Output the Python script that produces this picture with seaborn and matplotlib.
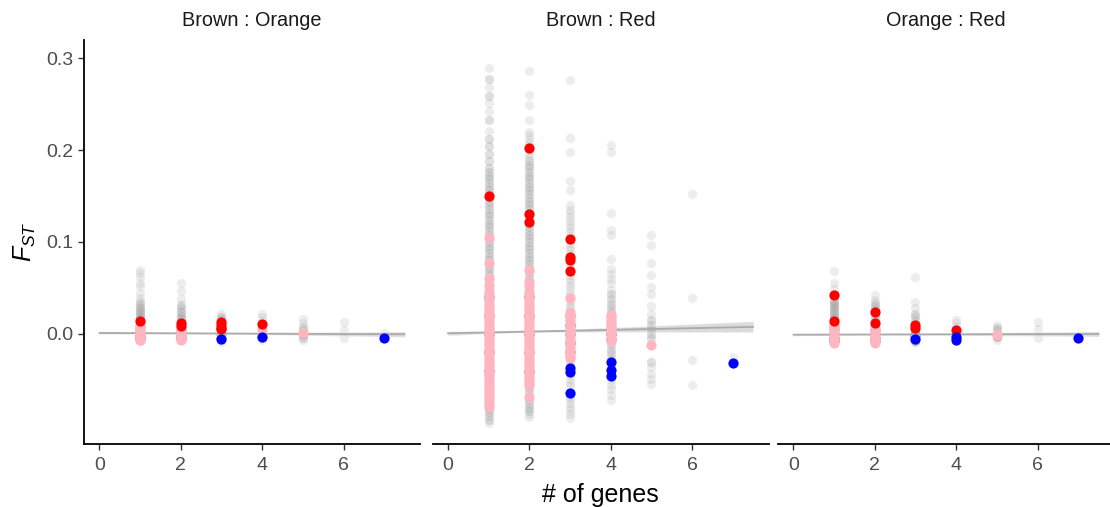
import numpy as np
import pandas as pd
import matplotlib
matplotlib.use("Agg")
import matplotlib.pyplot as plt
import seaborn as sns

# ---------------- data ----------------
PANELS = ["Brown : Orange", "Brown : Red", "Orange : Red"]
X_TICKS = [0, 2, 4, 6]
Y_TICKS = [0.0, 0.1, 0.2, 0.3]
Y_TICK_LABELS = ["0.0", "0.1", "0.2", "0.3"]
X_LABEL = "# of genes"
Y_LABEL = "$F_{ST}$"

# all loci (grey): {number of genes: [(FST, number of loci), ...]}
bo_grey = {
    1: [(0.070, 1), (0.066, 1), (0.062, 1), (0.055, 1), (0.052, 1), (0.045, 1), (0.039, 1),
        (0.035, 2), (0.031, 2), (0.028, 3), (0.025, 3), (0.022, 3), (0.019, 3), (0.016, 3),
        (0.013, 3), (0.006, 20), (0.002, 70), (-0.002, 120), (-0.005, 100)],
    2: [(0.055, 1), (0.047, 1), (0.038, 1), (0.032, 2), (0.028, 2), (0.024, 3), (0.020, 3),
        (0.016, 3), (0.013, 3), (0.005, 20), (0.002, 50), (-0.002, 80), (-0.005, 80)],
    3: [(0.022, 1), (0.019, 2), (0.016, 2), (0.013, 2), (0.010, 2), (0.006, 2), (0.002, 2),
        (-0.002, 2), (-0.006, 2), (-0.009, 1), (0.0, 40), (-0.004, 40)],
    4: [(0.022, 1), (0.018, 1), (0.014, 1), (0.010, 1), (0.006, 1), (0.002, 1), (-0.002, 1),
        (-0.006, 1), (-0.003, 15)],
    5: [(0.016, 1), (0.012, 1), (0.008, 2), (0.004, 2), (0.0, 2), (-0.004, 2), (-0.007, 1),
        (0.0, 15)],
    6: [(0.013, 1), (0.004, 1), (-0.004, 1)],
    7: [(0.001, 1)],
}
br_grey = {
    1: [(0.289, 1), (0.277, 2), (0.269, 1), (0.259, 2), (0.251, 1), (0.242, 1), (0.233, 2),
        (0.221, 1), (0.212, 2), (0.204, 2), (0.196, 2), (0.188, 2), (0.180, 2),
        (0.176, 2), (0.172, 2), (0.168, 2), (0.164, 2), (0.160, 2), (0.156, 2), (0.152, 2),
        (0.148, 2), (0.144, 2), (0.140, 2), (0.136, 2), (0.132, 2), (0.128, 2), (0.124, 2),
        (0.120, 2), (0.116, 2), (0.112, 2), (0.108, 2), (0.104, 2), (0.100, 2), (0.096, 2),
        (0.092, 2), (0.088, 2), (0.084, 2), (0.080, 2), (0.076, 2), (0.072, 2), (0.068, 2),
        (0.064, 2), (0.060, 2), (0.056, 2), (0.052, 2),
        (-0.082, 2), (-0.085, 2), (-0.089, 2), (-0.093, 2), (-0.097, 1),
        (-0.04, 310), (-0.02, 600), (0.0, 800), (0.02, 550), (0.04, 165)],
    2: [(0.286, 1), (0.260, 1), (0.249, 1), (0.233, 1), (0.220, 1), (0.216, 1), (0.212, 1),
        (0.208, 1), (0.204, 1), (0.200, 1), (0.196, 1), (0.192, 1), (0.188, 2), (0.184, 2),
        (0.180, 2), (0.176, 2), (0.172, 2), (0.168, 2), (0.164, 2), (0.160, 2), (0.156, 2),
        (0.152, 2), (0.148, 2), (0.144, 2), (0.140, 2), (0.136, 2), (0.132, 2), (0.128, 2),
        (0.124, 2), (0.120, 2), (0.116, 2), (0.112, 2), (0.108, 2), (0.104, 2), (0.100, 2),
        (0.096, 2), (0.092, 2), (0.088, 2), (0.084, 2), (0.080, 2), (0.076, 2), (0.072, 2),
        (0.068, 2), (0.064, 2), (0.060, 2), (0.056, 2), (0.052, 2),
        (-0.059, 2), (-0.063, 2), (-0.072, 2), (-0.076, 2), (-0.080, 2), (-0.084, 2),
        (-0.087, 1), (-0.090, 1),
        (-0.04, 230), (-0.02, 450), (0.0, 600), (0.02, 400), (0.04, 130)],
    3: [(0.276, 1), (0.213, 1), (0.198, 1), (0.166, 1), (0.157, 1), (0.140, 1), (0.135, 1),
        (0.131, 1), (0.127, 1), (0.123, 1), (0.119, 1), (0.115, 1), (0.111, 1), (0.107, 1),
        (0.099, 1), (0.095, 1), (0.091, 1), (0.087, 1), (0.076, 1), (0.072, 1), (0.064, 1),
        (0.060, 1), (0.056, 1), (0.052, 1), (0.048, 1), (0.044, 1), (0.040, 1), (0.036, 1),
        (0.032, 1), (0.029, 1),
        (-0.030, 1), (-0.034, 1), (-0.045, 1), (-0.049, 1), (-0.053, 1), (-0.057, 1),
        (-0.068, 1), (-0.071, 1), (-0.075, 1), (-0.079, 1), (-0.083, 1), (-0.087, 1),
        (-0.091, 1),
        (-0.02, 80), (-0.01, 130), (0.0, 200), (0.01, 130), (0.02, 60)],
    4: [(0.205, 1), (0.198, 1), (0.131, 1), (0.113, 1), (0.108, 1), (0.082, 1), (0.071, 1),
        (0.065, 1), (0.060, 1), (0.055, 1), (0.048, 1), (0.043, 2), (0.038, 2), (0.033, 2),
        (0.028, 2), (0.024, 2),
        (-0.012, 2), (-0.017, 2), (-0.022, 2), (-0.027, 2), (-0.034, 1), (-0.043, 1),
        (-0.050, 1), (-0.055, 1), (-0.060, 1), (-0.066, 1), (-0.072, 1),
        (-0.005, 60), (0.0, 80), (0.005, 40), (0.01, 20)],
    5: [(0.108, 1), (0.097, 1), (0.077, 1), (0.064, 1), (0.051, 1), (0.044, 1), (0.030, 1),
        (0.022, 1), (0.015, 2), (0.010, 2), (0.005, 2), (0.0, 2), (-0.004, 2), (-0.012, 1),
        (-0.030, 2), (-0.036, 1), (-0.043, 1), (-0.049, 1), (-0.054, 1)],
    6: [(0.152, 1), (0.039, 1), (-0.028, 1), (-0.055, 1)],
    7: [(-0.025, 1)],
}
or_grey = {
    1: [(0.068, 1), (0.055, 1), (0.049, 1), (0.044, 1), (0.037, 2), (0.034, 3), (0.031, 3),
        (0.028, 3), (0.025, 3), (0.022, 3), (0.019, 3), (0.016, 3),
        (0.009, 20), (0.005, 40), (0.0, 80), (-0.004, 120), (-0.008, 120)],
    2: [(0.042, 1), (0.037, 1), (0.034, 2), (0.030, 2), (0.027, 2), (0.020, 2), (0.016, 2),
        (0.004, 50), (0.0, 80), (-0.004, 70), (-0.008, 50)],
    3: [(0.062, 1), (0.035, 1), (0.028, 1), (0.022, 2), (0.018, 2), (0.014, 2), (0.004, 2),
        (0.0, 2), (-0.004, 2), (-0.009, 2), (0.0, 20), (-0.002, 60), (-0.006, 30)],
    4: [(0.015, 1), (0.012, 1), (0.008, 1), (0.004, 1), (0.0, 1), (-0.004, 1), (-0.008, 1),
        (-0.003, 10)],
    5: [(0.010, 1), (0.007, 2), (0.004, 2), (0.0, 2), (-0.003, 2), (-0.006, 1),
        (-0.002, 15)],
    6: [(0.013, 1), (0.005, 1), (-0.004, 1)],
}

# highlighted loci: {number of genes: [FST, ...]}
bo_pink = {1: [0.010, 0.008, 0.006, 0.004, 0.002, 0.0, -0.002, -0.004, -0.006, -0.007],
           2: [0.005, 0.003, 0.001, -0.001, -0.003, -0.005, -0.006], 4: [0.004], 5: [0.001]}
bo_red = {1: [0.0145], 2: [0.009, 0.012], 3: [0.013, 0.010, 0.007, 0.005], 4: [0.011]}
bo_blue = {3: [-0.005], 4: [-0.003], 7: [-0.004]}

br_pink = {
    1: [0.104, 0.077, 0.061, 0.053, 0.047, 0.044, 0.041, 0.038, 0.035, 0.032, 0.029, 0.026,
        0.023, 0.020, 0.017, 0.014, 0.011, 0.008, 0.005, 0.002, -0.001, -0.004, -0.007,
        -0.010, -0.013, -0.016, -0.019, -0.022, -0.025, -0.028, -0.031, -0.034, -0.037,
        -0.040, -0.043, -0.046, -0.049, -0.052, -0.055, -0.058, -0.061, -0.064, -0.067,
        -0.070, -0.073, -0.076, -0.079],
    2: [0.070, 0.056, 0.052, 0.046, 0.043, 0.040, 0.037, 0.034, 0.031, 0.028, 0.025, 0.022,
        0.019, 0.016, 0.013, 0.010, 0.007, 0.004, 0.001, -0.002, -0.005, -0.008, -0.011,
        -0.014, -0.017, -0.020, -0.023, -0.026, -0.029, -0.032, -0.035, -0.038, -0.041,
        -0.044, -0.047, -0.050, -0.053, -0.055, -0.068],
    3: [0.039, 0.024, 0.021, 0.018, 0.015, 0.012, 0.009, 0.006, 0.003, 0.0, -0.003, -0.006,
        -0.009, -0.012, -0.015, -0.018, -0.021, -0.024, -0.026],
    4: [0.021, 0.018, 0.015, 0.012, 0.009, 0.006, 0.003, 0.0, -0.003, -0.006, -0.008],
    5: [-0.012],
}
br_red = {1: [0.150], 2: [0.202, 0.130, 0.122], 3: [0.103, 0.084, 0.080, 0.068]}
br_blue = {3: [-0.037, -0.041, -0.064], 4: [-0.030, -0.039, -0.046], 7: [-0.032]}

or_pink = {1: [0.011, 0.008, 0.005, 0.002, -0.001, -0.004, -0.007, -0.010],
           2: [0.007, 0.004, 0.001, -0.002, -0.005, -0.008, -0.010], 5: [-0.001]}
or_red = {1: [0.042, 0.0145], 2: [0.024, 0.0116], 3: [0.010, 0.007], 4: [0.0043]}
or_blue = {3: [-0.0055], 4: [-0.003, -0.0065], 7: [-0.0045]}

GREY_DATA = [bo_grey, br_grey, or_grey]
PINK_DATA = [bo_pink, br_pink, or_pink]
RED_DATA = [bo_red, br_red, or_red]
BLUE_DATA = [bo_blue, br_blue, or_blue]


def grey_frame(d):
    xs, ys = [], []
    for k, pairs in d.items():
        for v, c in pairs:
            xs.append(np.repeat(k, c))
            ys.append(np.repeat(v, c))
    return pd.DataFrame({"genes": np.concatenate(xs).astype(float),
                         "fst": np.concatenate(ys)})


def point_frame(d):
    xs = [k for k, vals in d.items() for _ in vals]
    ys = [v for vals in d.values() for v in vals]
    return pd.DataFrame({"genes": np.array(xs, dtype=float), "fst": ys})


# ---------------- style ----------------
sns.set_theme(style="ticks")
plt.rcParams["font.family"] = ["Liberation Sans", "DejaVu Sans"]
plt.rcParams["mathtext.fontset"] = "custom"
plt.rcParams["mathtext.it"] = "Liberation Sans:italic"
plt.rcParams["mathtext.rm"] = "Liberation Sans"

W, H = 1110, 507
fig = plt.figure(figsize=(W / 100, H / 100), dpi=100)
lefts_px = [84, 432.5, 778]
panel_w_px = 336
bottom_px, top_px = 444, 40

XLIM = (-0.375, 7.875)
YLIM = (-0.1196, 0.3196)
GREY_SIZE = 44
PT_SIZE = 54

for i, name in enumerate(PANELS):
    ax = fig.add_axes([lefts_px[i] / W, (H - bottom_px) / H,
                       panel_w_px / W, (bottom_px - top_px) / H])
    g = grey_frame(GREY_DATA[i])
    sns.scatterplot(data=g, x="genes", y="fst", color="#A9A9A9", alpha=0.2, s=GREY_SIZE,
                    linewidth=0, ax=ax, legend=False)
    ax.collections[-1].set_zorder(1)
    ax.set_xlim(0, 7.5)
    n_before = len(ax.collections)
    sns.regplot(data=g, x="genes", y="fst", scatter=False, truncate=False, ci=95,
                n_boot=500, seed=1, color="#ABABAB", line_kws=dict(linewidth=1.3),
                ax=ax)
    for coll in ax.collections[n_before:]:
        coll.set_facecolor("#9A9A9A")
        coll.set_alpha(0.35)
        coll.set_zorder(1.5)
    for line in ax.lines:
        line.set_zorder(2)
    for zo, (d, col) in enumerate(((PINK_DATA[i], "#FFB6C1"), (RED_DATA[i], "#FF0000"),
                                   (BLUE_DATA[i], "#0000FF"))):
        p = point_frame(d)
        sns.scatterplot(data=p, x="genes", y="fst", color=col, s=PT_SIZE, linewidth=0,
                        alpha=1.0, ax=ax, legend=False)
        ax.collections[-1].set_zorder(3 + zo)

    ax.set_xlim(*XLIM)
    ax.set_ylim(*YLIM)
    ax.set_xticks(X_TICKS)
    ax.set_xticklabels([str(t) for t in X_TICKS])
    ax.set_title(name, fontsize=14.3, color="#1A1A1A", pad=10)
    for s in ("top", "right"):
        ax.spines[s].set_visible(False)
    ax.spines["bottom"].set_linewidth(1.3)
    ax.spines["bottom"].set_color("black")
    ax.tick_params(axis="x", length=4, width=1.0, color="#333333",
                   labelcolor="#4D4D4D", labelsize=14, pad=5.5)
    if i == 0:
        ax.set_yticks(Y_TICKS)
        ax.set_yticklabels(Y_TICK_LABELS)
        ax.spines["left"].set_linewidth(1.3)
        ax.spines["left"].set_color("black")
        ax.tick_params(axis="y", length=4, width=1.0, color="#333333",
                       labelcolor="#4D4D4D", labelsize=14, pad=3.5)
        ax.set_ylabel(Y_LABEL, fontsize=18, color="black", labelpad=6)
    else:
        ax.spines["left"].set_visible(False)
        ax.set_yticks([])
        ax.set_ylabel("")
    if i == 1:
        ax.set_xlabel(X_LABEL, fontsize=18, color="black", labelpad=6)
    else:
        ax.set_xlabel("")

fig.savefig("out.png", dpi=100, facecolor="white")
